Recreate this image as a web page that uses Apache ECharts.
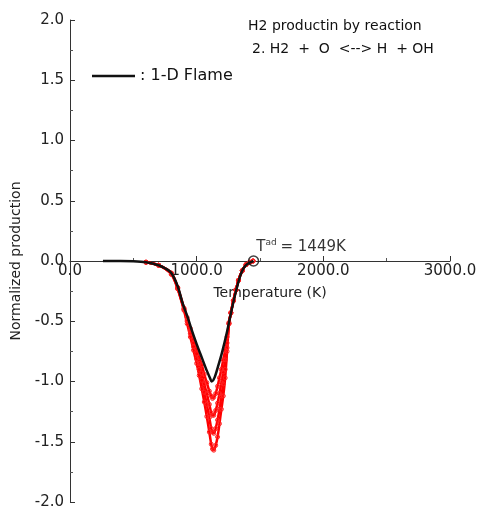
<!DOCTYPE html>
<html><head><meta charset="utf-8">
<script src="https://cdn.jsdelivr.net/npm/echarts@6/dist/echarts.min.js"></script>
<style>html,body{margin:0;padding:0;background:#fff}#c{width:480px;height:506px}</style>
</head><body><div id="c"></div>
<script>
// Black 1-D flame curve
const flameT = [260, 400, 500, 600, 650, 700, 750, 800, 850, 892, 930, 960, 1000, 1040, 1080, 1105, 1118, 1140, 1170, 1200, 1237, 1263, 1290, 1318, 1345, 1370, 1400, 1449];
const flameV = [0, 0, -0.003, -0.01, -0.02, -0.035, -0.06, -0.10, -0.21, -0.36, -0.47, -0.57, -0.69, -0.80, -0.91, -0.97, -1.0, -0.97, -0.87, -0.76, -0.60, -0.47, -0.34, -0.22, -0.12, -0.06, -0.025, 0];
// Red scattered production (several sample curves)
const redT = [600, 700, 800, 850, 900, 925, 950, 975, 1000, 1020, 1040, 1060, 1080, 1100, 1115, 1125, 1135, 1150, 1165, 1180, 1195, 1210, 1225, 1240, 1255, 1270, 1290, 1310, 1330, 1360, 1390, 1420, 1445];
const redA = [-0.01, -0.035, -0.10, -0.22, -0.39, -0.47, -0.56, -0.65, -0.73, -0.80, -0.86, -0.94, -1.01, -1.08, -1.12, -1.14, -1.13, -1.10, -1.04, -0.97, -0.90, -0.82, -0.74, -0.63, -0.51, -0.43, -0.33, -0.24, -0.16, -0.08, -0.03, -0.01, 0];
const redB = [-0.01, -0.035, -0.10, -0.22, -0.40, -0.49, -0.58, -0.68, -0.77, -0.85, -0.93, -1.02, -1.10, -1.19, -1.26, -1.28, -1.28, -1.24, -1.18, -1.10, -1.01, -0.92, -0.82, -0.68, -0.52, -0.43, -0.33, -0.24, -0.16, -0.08, -0.03, -0.01, 0];
const redC = [-0.01, -0.035, -0.11, -0.23, -0.40, -0.50, -0.60, -0.71, -0.81, -0.90, -0.99, -1.09, -1.19, -1.30, -1.39, -1.42, -1.43, -1.39, -1.32, -1.23, -1.12, -1.02, -0.90, -0.72, -0.52, -0.43, -0.33, -0.24, -0.16, -0.08, -0.03, -0.01, 0];
const redD = [-0.01, -0.035, -0.11, -0.23, -0.41, -0.52, -0.63, -0.74, -0.85, -0.95, -1.06, -1.17, -1.29, -1.42, -1.52, -1.56, -1.57, -1.53, -1.46, -1.35, -1.23, -1.12, -0.97, -0.75, -0.52, -0.43, -0.33, -0.24, -0.16, -0.08, -0.03, -0.01, 0];
const adiabaticT = 1449;
const adiabaticLabel = '1449K';
const xTicks = [0, 3000, 1000];
const yTicks = [-2, 2, 0.5];

const pair = (xs, ys) => xs.map((x, i) => [x, ys[i]]);
const FONT = 'DejaVu Sans, Liberation Sans, sans-serif';
const GRID = { left: 70, right: 30, top: 20, bottom: 4 };
const H = 506;
const plotH = H - GRID.top - GRID.bottom;
const zeroOffset = -plotH * (0 - yTicks[0]) / (yTicks[1] - yTicks[0]);

const redSeries = [redA, redB, redC, redD].map((v, k) => ({
  type: 'line', name: 'red' + k, data: pair(redT, v), smooth: 0.3,
  symbol: 'circle', symbolSize: 4, showSymbol: true,
  lineStyle: { color: '#ff0000', width: 2.5 },
  itemStyle: { color: 'rgba(255,255,255,0)', borderColor: '#ff2020', borderWidth: 1 },
  z: 2, silent: true
}));

const chart = echarts.init(document.getElementById('c'), null, { renderer: 'canvas' });
chart.setOption({
  animation: false,
  backgroundColor: '#fff',
  grid: Object.assign({ containLabel: false, outerBoundsMode: 'none' }, GRID),
  legend: {
    data: [': 1-D Flame'], left: 87, top: 63, icon: 'rect', itemWidth: 43, itemHeight: 2.5,
    textStyle: { fontFamily: FONT, fontSize: 16, color: '#111' }
  },
  graphic: [
    { type: 'text', left: 248, top: 19, style: { text: 'H2 productin by reaction', font: '14px ' + FONT, fill: '#111' } },
    { type: 'text', left: 252, top: 42, style: { text: '2. H2  +  O  <--> H  + OH', font: '14px ' + FONT, fill: '#111' } }
  ],
  xAxis: {
    type: 'value', min: xTicks[0], max: xTicks[1], interval: xTicks[2],
    position: 'bottom', offset: zeroOffset,
    name: 'Temperature (K)', nameLocation: 'middle', nameGap: 25,
    nameTextStyle: { fontFamily: FONT, fontSize: 14, color: '#222', padding: [0, 0, 0, 20] },
    axisLine: { onZero: false, lineStyle: { color: '#333', width: 1 } },
    axisTick: { inside: true, length: 5, lineStyle: { color: '#333' } },
    minorTick: { show: true, splitNumber: 2, length: 3, lineStyle: { color: '#555' } },
    splitLine: { show: false },
    axisLabel: { fontFamily: FONT, fontSize: 15, color: '#222', margin: 3, formatter: v => v.toFixed(1), showMaxLabel: true, showMinLabel: true }
  },
  yAxis: {
    type: 'value', min: yTicks[0], max: yTicks[1], interval: yTicks[2],
    name: 'Normalized production', nameLocation: 'middle', nameGap: 43, nameRotate: 90,
    nameTextStyle: { fontFamily: FONT, fontSize: 14, color: '#222' },
    axisLine: { show: true, onZero: false, lineStyle: { color: '#333', width: 1 } },
    axisTick: { inside: true, length: 5, lineStyle: { color: '#333' } },
    minorTick: { show: true, splitNumber: 2, length: 3, lineStyle: { color: '#555' } },
    splitLine: { show: false },
    axisLabel: { fontFamily: FONT, fontSize: 15, color: '#222', margin: 6, formatter: v => v.toFixed(1) }
  },
  series: [
    ...redSeries,
    {
      type: 'line', name: ': 1-D Flame', data: pair(flameT, flameV), smooth: 0.3, showSymbol: false,
      symbol: 'none', lineStyle: { color: '#111', width: 2.5 }, itemStyle: { color: '#111' }, z: 5
    },
    {
      type: 'scatter', name: 'Tad', data: [[adiabaticT, 0]], symbol: 'circle', symbolSize: 10,
      itemStyle: { color: 'rgba(255,255,255,0)', borderColor: '#111', borderWidth: 1.5 }, z: 6,
      label: {
        show: true, position: 'right', offset: [-8, -14], fontFamily: FONT,
        formatter: '{t|T}{s|ad} {e|= ' + adiabaticLabel + '}',
        rich: {
          t: { fontSize: 15, color: '#000', fontFamily: FONT },
          s: { fontSize: 9, color: '#000', fontFamily: FONT, verticalAlign: 'top', padding: [0, 0, 8, 0] },
          e: { fontSize: 15, color: '#000', fontFamily: FONT }
        }
      }
    }
  ]
});
</script></body></html>
